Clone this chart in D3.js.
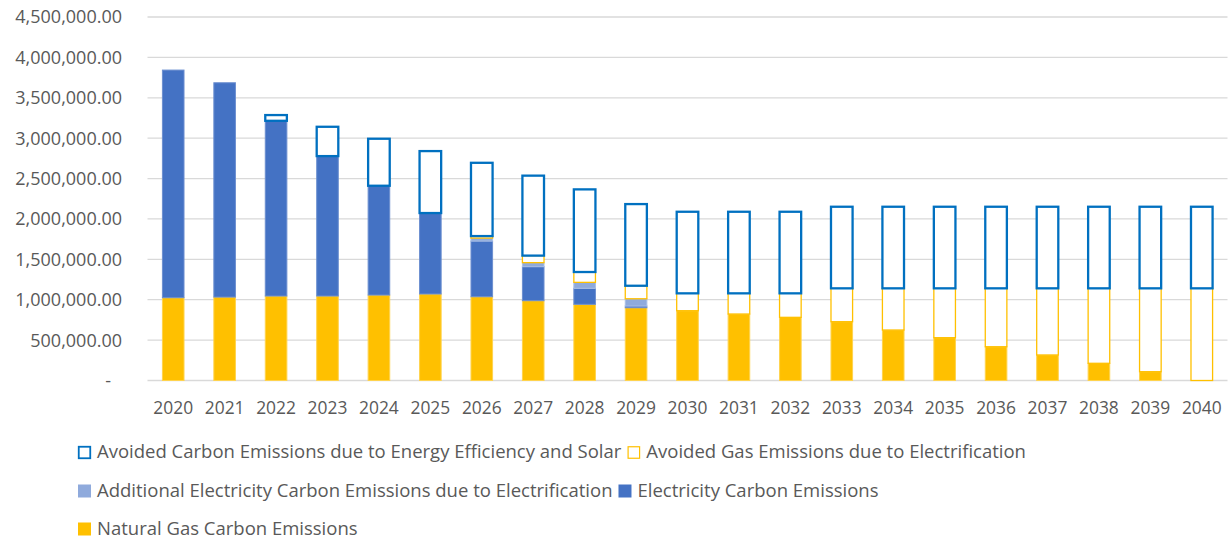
<!DOCTYPE html>
<html lang="en">
<head>
    <meta charset="UTF-8"/>
    <title>Carbon Emissions</title>
    <script src="https://d3js.org/d3.v7.min.js"></script>
    <style>
        body { margin: 0; background: white; }
        text { font-family: "Open Sans", Lato, sans-serif; fill: #595959; }
    </style>
</head>
<body>
<svg id="chart"></svg>
<script>
    const years = d3.range(2020, 2041).map(String);

    const naturalGas = [1025000, 1033000, 1046000, 1046000, 1058000, 1071000, 1037000, 988000, 943000, 901000,
        864000, 823000, 782000, 728000, 625000, 530000, 418000, 316000, 213000, 109000, 0];
    const electricity = [2818000, 2653000, 2169000, 1732000, 1353000, 1002000, 689000, 421000, 198000, 21000,
        0, 0, 0, 0, 0, 0, 0, 0, 0, 0, 0];
    const additionalElec = [0, 0, 0, 0, 0, 0, 37000, 50000, 74000, 90000,
        0, 0, 0, 0, 0, 0, 0, 0, 0, 0, 0];
    const avoidedGas = [0, 0, 0, 0, 0, 0, 25000, 87000, 128000, 161000,
        215000, 256000, 297000, 413000, 516000, 611000, 723000, 825000, 928000, 1032000, 1141000];
    const avoidedEE = [0, 0, 71000, 363000, 582000, 767000, 907000, 990000, 1023000, 1011000,
        1010000, 1010000, 1010000, 1010000, 1010000, 1010000, 1010000, 1010000, 1010000, 1010000, 1010000];

    const yTicks = d3.range(0, 4500001, 500000);

    // stacked bottom to top
    const series = [
        {key: "gas", name: "Natural Gas Carbon Emissions", values: naturalGas, fill: "#FFC000", stroke: "#FFD34D", sw: 1},
        {key: "elec", name: "Electricity Carbon Emissions", values: electricity, fill: "#4472C4", stroke: "#6C8FD0", sw: 1},
        {key: "add", name: "Additional Electricity Carbon Emissions due to Electrification", values: additionalElec, fill: "#8FAADC", stroke: "#A9BFE5", sw: 1},
        {key: "agas", name: "Avoided Gas Emissions due to Electrification", values: avoidedGas, fill: "white", stroke: "#FFC000", sw: 1.3},
        {key: "aee", name: "Avoided Carbon Emissions due to Energy Efficiency and Solar", values: avoidedEE, fill: "white", stroke: "#0070C0", sw: 2.3}
    ];

    const width = 1231;
    const height = 539;
    const svg = d3.select("#chart").attr("width", width).attr("height", height);

    const x = d3.scaleBand().domain(years).range([147.5, 1227.5]).paddingInner(0.58).paddingOuter(0.29);
    const y = d3.scaleLinear().domain([0, 4500000]).range([380.5, 17]);

    // gridlines
    svg.append("g")
        .selectAll("line")
        .data(yTicks)
        .join("line")
        .attr("x1", 147.5)
        .attr("x2", 1227.5)
        .attr("y1", d => y(d))
        .attr("y2", d => y(d))
        .attr("stroke", "#D9D9D9")
        .attr("stroke-width", 1.3);

    // y labels
    svg.append("g")
        .selectAll("text")
        .data(yTicks)
        .join("text")
        .attr("x", d => d === 0 ? 111 : 122)
        .attr("y", d => y(d))
        .attr("dy", "0.36em")
        .attr("text-anchor", "end")
        .style("font-size", "18px")
        .text(d => d === 0 ? "-" : d3.format(",.2f")(d));

    // x labels
    svg.append("g")
        .selectAll("text")
        .data(years)
        .join("text")
        .attr("x", d => x(d) + x.bandwidth() / 2)
        .attr("y", 413.5)
        .attr("text-anchor", "middle")
        .style("font-size", "17.4px")
        .text(d => d);

    // stacked bars
    const table = years.map((yr, i) => {
        const row = {year: yr};
        series.forEach(s => row[s.key] = s.values[i]);
        return row;
    });
    const stacked = d3.stack().keys(series.map(s => s.key))(table);

    stacked.forEach((layer, li) => {
        const s = series[li];
        svg.append("g")
            .selectAll("rect")
            .data(layer.filter(d => d[1] - d[0] > 0))
            .join("rect")
            .attr("x", d => x(d.data.year))
            .attr("width", x.bandwidth())
            .attr("y", d => y(d[1]))
            .attr("height", d => y(d[0]) - y(d[1]))
            .attr("fill", s.fill)
            .attr("stroke", s.stroke)
            .attr("stroke-width", s.sw);
    });

    // legend (same order as the reference)
    const legendOrder = ["aee", "agas", "add", "elec", "gas"].map(k => series.find(s => s.key === k));
    const rows = [[0, 1], [2, 3], [4]];
    const rowY = [458, 496.5, 534.5];
    rows.forEach((row, ri) => {
        let cx = 78;
        row.forEach(idx => {
            const s = legendOrder[idx];
            const g = svg.append("g");
            const solid = s.fill !== "white";
            g.append("rect")
                .attr("x", cx + (solid ? 0 : 0.75))
                .attr("y", rowY[ri] - 12 + (solid ? 0 : 0.75))
                .attr("width", solid ? 13 : 11.5)
                .attr("height", solid ? 13 : 11.5)
                .attr("fill", s.fill)
                .attr("stroke", solid ? "none" : s.stroke)
                .attr("stroke-width", s.key === "aee" ? 1.8 : 1.2);
            const t = g.append("text")
                .attr("x", cx + 19)
                .attr("y", rowY[ri])
                .style("font-size", "18.5px")
                .text(s.name);
            cx = cx + 19 + t.node().getComputedTextLength() + 6;
        });
    });
</script>
</body>
</html>
